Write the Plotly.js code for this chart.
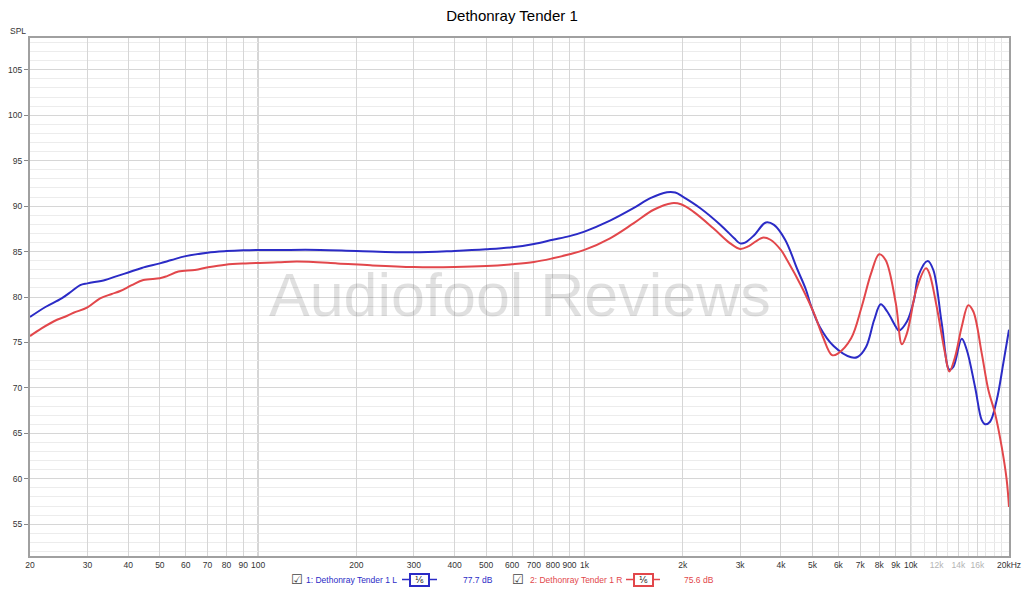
<!DOCTYPE html>
<html><head><meta charset="utf-8">
<script src="https://cdn.plot.ly/plotly-3.0.1.min.js"></script>
<style>html,body{margin:0;padding:0;background:#fff}#chart{width:1024px;height:589px}</style>
</head><body><div id="chart"></div>
<script>
const chartTitle = "Dethonray Tender 1";
const yLabel = "SPL";
const watermark = "Audiofool Reviews";

const nameL = "1: Dethonray Tender 1 L";
const avgL = "77.7 dB";
const freqL = [20,22.3,25,26.9,28.5,30,34,36.5,40,44,50,54.3,60,70,80,90,100,115,155,200,300,400,500,600,700,800,900,1000,1198,1413,1592,1790,1898,2000,2266,2612,2877,3000,3106,3312,3598,3810,4121,4498,4774,4938,5258,5802,6566,6868,7293,7724,8088,8468,9000,9186,9734,10228,10566,11270,11726,12444,13130,13504,14327,14841,15740,16500,16890,17496,18342,19210,20000];
const splL = [77.8,78.9,79.85,80.66,81.3,81.5,81.87,82.24,82.7,83.2,83.7,84.07,84.5,84.88,85.05,85.14,85.18,85.18,85.18,85.07,84.92,85.07,85.25,85.47,85.84,86.3,86.7,87.2,88.4,89.77,90.87,91.53,91.5,91.05,89.77,87.93,86.46,85.9,85.98,86.8,88.2,87.93,86.3,83.0,80.8,79.1,76.73,74.6,73.36,73.4,74.5,77.47,79.2,78.4,76.73,76.3,77.3,79.67,82.4,83.96,82.97,77.1,72.0,72.3,75.4,74.2,70.1,66.45,66.0,66.27,68.66,72.7,76.4];

const nameR = "2: Dethonray Tender 1 R";
const avgR = "75.6 dB";
const freqR = [20,21.7,24.2,25.6,27.2,30,32.8,35.6,37.8,41,44.5,50,52.6,57,64,70.3,79.5,91.5,115,131.6,175,221,300,400,500,600,700,800,900,1000,1198,1413,1630,1852,1977,2156,2483,2798,3000,3190,3513,3716,3998,4190,4604,5054,5382,5738,5992,6566,7070,7558,8000,8372,9000,9394,9734,9950,10398,11138,11400,12012,12736,13130,13668,14327,15008,15550,16500,17290,18120,18996,19680,20000];
const splR = [75.7,76.55,77.5,77.83,78.27,78.86,79.85,80.33,80.66,81.3,81.87,82.06,82.3,82.8,82.97,83.27,83.56,83.7,83.82,83.9,83.7,83.49,83.3,83.3,83.4,83.6,83.85,84.26,84.7,85.18,86.46,88.1,89.6,90.32,90.2,89.4,87.57,85.9,85.29,85.6,86.53,86.3,85.18,84.0,81.3,78.2,75.6,73.6,73.8,75.45,78.9,82.6,84.7,84.07,79.3,74.8,76.0,77.47,80.8,83.16,82.6,78.9,73.8,71.8,73.4,76.73,79.1,78.4,73.8,69.76,67.2,63.5,59.85,56.9];

const xTickVals = [20,30,40,50,60,70,80,90,100,200,300,400,500,600,700,800,900,1000,2000,3000,4000,5000,6000,7000,8000,9000,10000,12000,14000,16000,20000];
const xTickLabels = ["20","30","40","50","60","70","80","90","100","200","300","400","500","600","700","800","900","1k","2k","3k","4k","5k","6k","7k","8k","9k","10k","12k","14k","16k","20kHz"];
const fadedLabels = ["12k","14k","16k"];
const xMinorVals = [11000,13000,15000,17000,18000,19000];
const decadeVals = [100,1000,10000];

const blue = '#2b2bc6';
const red = '#e2474b';
const FONT = 'Liberation Sans, Arial, sans-serif';

const W = 1024, H = 589;
const M = {l:30, r:15, t:38, b:33};
const PW = W - M.l - M.r, PH = H - M.t - M.b;
const px = x => (x - M.l) / PW;
const py = y => (H - M.b - y) / PH;

const tickText = xTickLabels.map(t => fadedLabels.includes(t) ? '<span style="color:#b4b4b4">' + t + '</span>' : t);

const traces = [
  {x: freqL, y: splL, type: 'scatter', mode: 'lines', name: nameL,
   line: {color: blue, width: 2, shape: 'spline', smoothing: 1}, hoverinfo: 'skip'},
  {x: freqR, y: splR, type: 'scatter', mode: 'lines', name: nameR,
   line: {color: red, width: 2, shape: 'spline', smoothing: 1}, hoverinfo: 'skip'}
];

const shapes = decadeVals.map(v => ({type: 'line', xref: 'x', yref: 'paper', x0: v, x1: v, y0: 0, y1: 1,
  line: {color: '#9a9a9a', width: 1}, layer: 'below'}));

const legY = py(579.5);
function legendItems(color, cbX, textX, l0, l1, avgX, name, avg) {
  const bx = (l0 + l1) / 2;
  shapes.push({type: 'line', xref: 'paper', yref: 'paper', x0: px(l0), x1: px(l1), y0: legY, y1: legY,
    line: {color: color, width: 1.5}});
  return [
    {xref: 'paper', yref: 'paper', x: px(cbX), y: legY, text: '☑', showarrow: false,
     font: {family: 'DejaVu Sans', size: 13, color: '#444'}, xanchor: 'center', yanchor: 'middle'},
    {xref: 'paper', yref: 'paper', x: px(textX), y: legY, text: name, showarrow: false,
     font: {family: FONT, size: 8.5, color: color}, xanchor: 'left', yanchor: 'middle'},
    {xref: 'paper', yref: 'paper', x: px(bx), y: legY, text: '¹⁄₆', showarrow: false,
     font: {family: 'DejaVu Sans', size: 9, color: '#222'}, xanchor: 'center', yanchor: 'middle',
     bgcolor: '#fff', bordercolor: color, borderwidth: 2, borderpad: 0, width: 17, height: 10},
    {xref: 'paper', yref: 'paper', x: px(avgX), y: legY, text: avg, showarrow: false,
     font: {family: FONT, size: 8.5, color: color}, xanchor: 'center', yanchor: 'middle'}
  ];
}

const annotations = [
  {xref: 'paper', yref: 'paper', x: 0.5, y: py(295), text: watermark, showarrow: false,
   font: {family: FONT, size: 61, color: 'rgba(0,0,0,0.12)'}, xanchor: 'center', yanchor: 'middle'},
  {xref: 'paper', yref: 'paper', x: px(18), y: py(31), text: yLabel, showarrow: false,
   font: {family: FONT, size: 8.5, color: '#333'}, xanchor: 'center', yanchor: 'middle'},
  ...legendItems(blue, 296.7, 304, 402, 437, 477.5, nameL, avgL),
  ...legendItems(red, 518.3, 528, 626, 660, 698.5, nameR, avgR)
];

const layout = {
  width: W, height: H,
  margin: M,
  paper_bgcolor: '#fff', plot_bgcolor: '#fff',
  showlegend: false,
  title: {text: chartTitle, font: {family: FONT, size: 15, color: '#000'},
          xref: 'container', yref: 'container', x: 0.5, y: 1 - 16 / H, xanchor: 'center', yanchor: 'middle'},
  xaxis: {type: 'log', range: [Math.log10(20), Math.log10(20000)],
          tickmode: 'array', tickvals: xTickVals, ticktext: tickText,
          tickfont: {family: FONT, size: 8.5, color: '#333'}, ticks: '',
          showgrid: true, gridcolor: '#d6d6d6', gridwidth: 1,
          minor: {tickmode: 'array', tickvals: xMinorVals, showgrid: true, gridcolor: '#e6e6e6', ticks: ''},
          showline: true, mirror: true, linecolor: '#a0a0a0', linewidth: 2,
          zeroline: false, fixedrange: true},
  yaxis: {range: [51.5, 108.5], dtick: 5, tick0: 0,
          tickfont: {family: FONT, size: 8.5, color: '#333'}, ticks: 'outside', ticklen: 4, tickcolor: '#888',
          showgrid: true, gridcolor: '#d6d6d6', gridwidth: 1,
          minor: {dtick: 1, showgrid: true, gridcolor: '#ececec', ticks: ''},
          showline: true, mirror: true, linecolor: '#a0a0a0', linewidth: 2,
          zeroline: false, fixedrange: true},
  shapes: shapes,
  annotations: annotations
};

Plotly.newPlot('chart', traces, layout, {displayModeBar: false, staticPlot: true});
</script>
</body></html>
